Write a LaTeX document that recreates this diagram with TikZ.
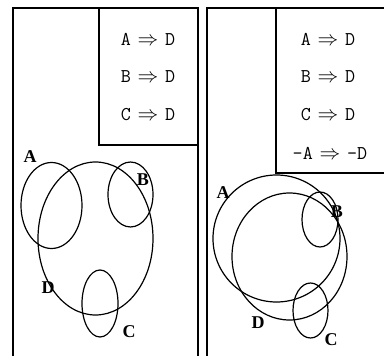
\documentclass[tikz,border=0pt]{standalone}
\usepackage{fontspec}
\setmainfont{Liberation Serif}
\begin{document}
\begin{tikzpicture}[x=1pt,y=-1pt,
  frame/.style={line width=1.4pt,line cap=rect},
  setline/.style={line width=1.2pt},
  rule/.style={font=\fontsize{19.5}{22}\selectfont\ttfamily,inner sep=0pt},
  lbl/.style={font=\fontsize{18}{20}\selectfont\bfseries,inner sep=0pt}]
\useasboundingbox (0,0) rectangle (384,356);
% left panel
\draw[frame] (13,357) -- (13,8) -- (198,8) -- (198,357);
\draw[frame] (99,8) -- (99,145) -- (198,145);
\node[rule] (l1) at (148,39) {A\hspace{0.35em}$\Rightarrow$\hspace{0.35em}D};
\node[rule] (l2) at (148,77) {B\hspace{0.35em}$\Rightarrow$\hspace{0.35em}D};
\node[rule] (l3) at (148,115) {C\hspace{0.35em}$\Rightarrow$\hspace{0.35em}D};
\draw[setline] (51.5,205.5) ellipse [x radius=30.5,y radius=43];
\draw[setline] (95.5,238.5) ellipse [x radius=57.5,y radius=76.5];
\draw[setline] (130.5,194.5) ellipse [x radius=22.5,y radius=32.5];
\draw[setline] (100,303.5) ellipse [x radius=18,y radius=33.5];
\node[lbl] (la) at (30,157) {A};
\node[lbl] (lb) at (143,180) {B};
\node[lbl] (ld) at (48,288) {D};
\node[lbl] (lc) at (129,332) {C};
% right panel
\draw[frame] (207,357) -- (207,8) -- (385,8);
\draw[frame] (276,8) -- (276,173) -- (385,173);
\node[rule] (r1) at (328,39) {A\hspace{0.35em}$\Rightarrow$\hspace{0.35em}D};
\node[rule] (r2) at (328,77) {B\hspace{0.35em}$\Rightarrow$\hspace{0.35em}D};
\node[rule] (r3) at (328,115) {C\hspace{0.35em}$\Rightarrow$\hspace{0.35em}D};
\node[rule] (r4) at (330,153) {-A\hspace{0.35em}$\Rightarrow$\hspace{0.35em}-D};
\draw[setline] (276.5,238.5) circle [radius=63.5];
\draw[setline] (289.5,256.5) ellipse [x radius=57.5,y radius=63.5];
\draw[setline] (320,219.5) ellipse [x radius=18,y radius=27.5];
\draw[setline] (310.5,310.5) ellipse [x radius=17.5,y radius=27.5];
\node[lbl] (ra) at (223,193) {A};
\node[lbl] (rb) at (337,212) {B};
\node[lbl] (rd) at (258,323) {D};
\node[lbl] (rc) at (331,340) {C};
\end{tikzpicture}
\end{document}
